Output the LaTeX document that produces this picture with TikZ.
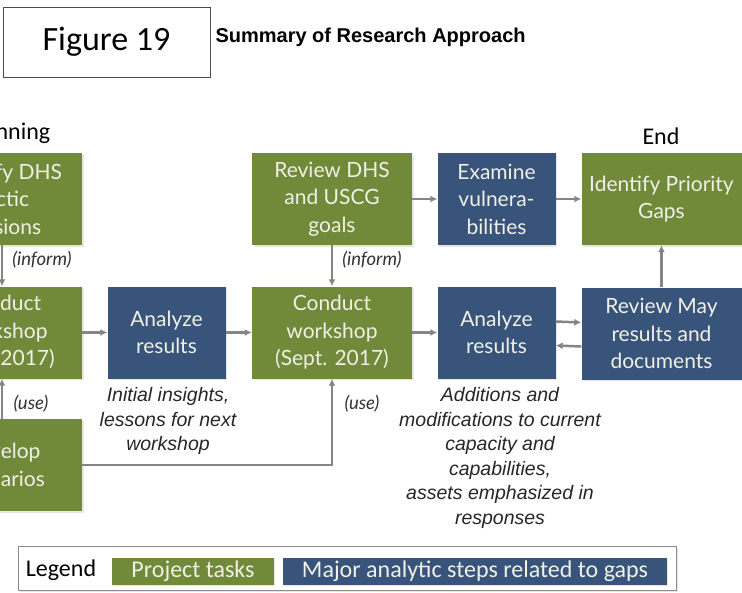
\documentclass[tikz,border=0pt]{standalone}
\usepackage{fontspec}
\setmainfont{Lato}
\newfontfamily\arialfont{Liberation Sans}
\newfontfamily\calibrifont{Carlito}
\usetikzlibrary{arrows.meta, positioning, shadows}

\definecolor{taskgreen}{HTML}{708A3A}
\definecolor{stepblue}{HTML}{38547A}
\definecolor{boxtext}{HTML}{F0F0E6}
\definecolor{flowgray}{HTML}{858585}

\begin{document}
\begin{tikzpicture}[
        x=1pt, y=-1pt,
        task/.style={fill=taskgreen, text=boxtext, align=center, inner sep=0pt,
            font=\fontsize{21}{27.5}\selectfont, minimum width=160pt, minimum height=92pt,
            drop shadow={opacity=0.2, shadow xshift=1.5pt, shadow yshift=-1.5pt}},
        analysis/.style={task, fill=stepblue, minimum width=118pt},
        flow/.style={draw=flowgray, line width=2.5pt, -{Latex[length=7pt, width=7pt]}},
        tag/.style={font=\itshape\fontsize{18.5}{20}\selectfont, text=black!80},
        note/.style={font=\arialfont\itshape\fontsize{19.5}{24.5}\selectfont, align=center, text=black!85},
        legbox/.style={inner sep=0pt, minimum height=27pt, text=boxtext,
            font=\calibrifont\fontsize{24}{24}\selectfont,
            drop shadow={opacity=0.2, shadow xshift=1pt, shadow yshift=-1pt}}
    ]
        \useasboundingbox (0,0) rectangle (742,592);
        \clip (0,0) rectangle (742,592);

        % heading
        \node[draw=black!70, line width=0.8pt, minimum width=207pt, minimum height=70pt,
            font=\calibrifont\fontsize{34}{34}\selectfont] (fig) at (106.5,42) {Figure 19};
        \node[anchor=west, font=\arialfont\bfseries\fontsize{20}{22}\selectfont] (title) at (212,37) {Summary of Research Approach};

        \node[font=\calibrifont\fontsize{24}{24}\selectfont] (begin) at (2,133) {Beginning};
        \node[font=\calibrifont\fontsize{24}{24}\selectfont] (end) at (661,136) {End};

        % left column, cut by the page edge
        \node[task] (ident) at (2,199) {Identify DHS\\Arctic\\missions};
        \node[task] (may) at (2,332.5) {Conduct\\workshop\\(May 2017)};
        \node[task] (scen) at (2,465) {Develop\\scenarios};

        \node[analysis] (res1) at (166.5,332.5) {Analyze\\results};

        \node[task] (goals) at (332,199) {Review DHS\\and USCG\\goals};
        \node[task] (sept) at (332,332.5) {Conduct\\workshop\\(Sept. 2017)};

        \node[analysis] (vuln) at (496.5,199) {Examine\\vulnera-\\bilities};
        \node[analysis] (res2) at (496.5,332.5) {Analyze\\results};

        \node[task] (gaps) at (661.5,199) {Identify Priority\\Gaps};
        \node[analysis, minimum width=160pt] (review) at (661.5,333.5) {Review May\\results and\\documents};

        % connectors
        \draw[flow] (ident) -- (may);
        \draw[flow] (scen) -- (may);
        \draw[flow] (may) -- (res1);
        \draw[flow] (res1) -- (sept);
        \draw[flow] (goals) -- (sept);
        \draw[flow] (scen.east) -| (sept.south);
        \draw[flow] (goals) -- (vuln);
        \draw[flow] (vuln) -- (gaps);
        \draw[flow] (sept) -- (res2);
        \draw[flow] ([yshift=11pt]res2.east) -- ([yshift=11pt]review.west);
        \draw[flow] ([yshift=-13pt]review.west) -- ([yshift=-13pt]res2.east);
        \draw[flow] (review) -- (gaps);

        \node[tag] (inform1) at (42,260) {(inform)};
        \node[tag] (inform2) at (372,260) {(inform)};
        \node[tag] (use1) at (31,404) {(use)};
        \node[tag] (use2) at (362,404) {(use)};

        \node[note] (insights) at (168,421) {Initial insights,\\lessons for next\\workshop};
        \node[note] (additions) at (500,458) {Additions and\\modifications to current\\capacity and\\capabilities,\\assets emphasized in\\responses};

        % legend
        \draw[draw=black!45, line width=1pt, fill=white,
            drop shadow={opacity=0.2, shadow xshift=1.5pt, shadow yshift=-1.5pt}] (18,546) rectangle (676,590);
        \node[font=\calibrifont\fontsize{24}{24}\selectfont] (legend) at (61,570) {Legend};
        \node[legbox, fill=taskgreen, minimum width=162pt] (legtask) at (193,571.5) {Project tasks};
        \node[legbox, fill=stepblue, minimum width=384pt] (legstep) at (475,571.5) {Major analytic steps related to gaps};
    \end{tikzpicture}
\end{document}
